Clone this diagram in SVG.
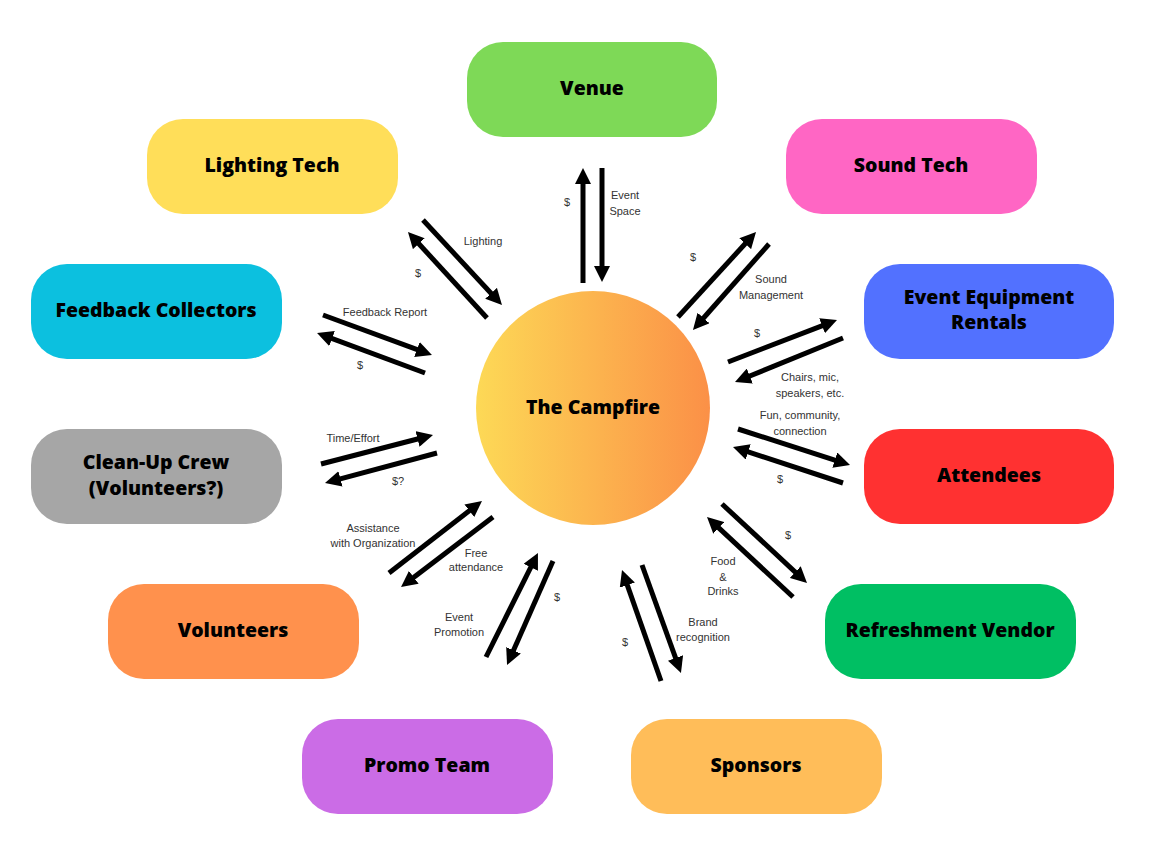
<svg xmlns="http://www.w3.org/2000/svg" width="1167" height="841" viewBox="0 0 1167 841">
<style>
.node{font-family:"Open Sans","Liberation Sans",sans-serif;font-weight:800;font-size:19.5px;fill:#000;text-anchor:middle;dominant-baseline:central}
.lbl{font-family:"Liberation Sans",Arial,sans-serif;font-size:11px;fill:#333;text-anchor:middle;dominant-baseline:central}
.arr{stroke:#000;stroke-width:5;fill:none;marker-end:url(#ah)}
</style>
<defs>
<marker id="ah" markerUnits="userSpaceOnUse" markerWidth="16" markerHeight="16" viewBox="0 0 16 16" refX="4" refY="8" orient="auto">
<path d="M0,0 L16,8 L0,16 z" fill="#000"/>
</marker>
<linearGradient id="fire" x1="0" y1="0" x2="1" y2="0">
<stop offset="0" stop-color="#FDD956"/>
<stop offset="1" stop-color="#FB9047"/>
</linearGradient>
</defs>
<rect width="1167" height="841" fill="#fff"/>

<g id="campfire">
<circle cx="593" cy="408" r="117" fill="url(#fire)"/>
<text class="node" x="593" y="406">The Campfire</text>
</g>
<g id="venue"><rect x="467" y="42" width="250" height="95" rx="36" fill="#7ED957"/><text class="node" x="592" y="87">Venue</text></g>
<g id="lighting-tech"><rect x="147" y="119" width="251" height="95" rx="36" fill="#FFDE59"/><text class="node" x="272" y="164">Lighting Tech</text></g>
<g id="sound-tech"><rect x="786" y="119" width="251" height="95" rx="36" fill="#FF66C4"/><text class="node" x="911" y="164">Sound Tech</text></g>
<g id="feedback-collectors"><rect x="31" y="264" width="251" height="95" rx="36" fill="#0CC0DF"/><text class="node" x="156" y="309">Feedback Collectors</text></g>
<g id="event-equipment-rentals"><rect x="864" y="264" width="250" height="95" rx="36" fill="#5271FF"/><text class="node" x="989" y="296">Event Equipment</text><text class="node" x="989" y="321">Rentals</text></g>
<g id="clean-up-crew"><rect x="31" y="429" width="251" height="95" rx="36" fill="#A6A6A6"/><text class="node" x="156" y="461">Clean-Up Crew</text><text class="node" x="156" y="487">(Volunteers?)</text></g>
<g id="attendees"><rect x="864" y="429" width="250" height="95" rx="36" fill="#FF3131"/><text class="node" x="989" y="474">Attendees</text></g>
<g id="volunteers"><rect x="108" y="584" width="251" height="95" rx="36" fill="#FF914D"/><text class="node" x="233" y="629">Volunteers</text></g>
<g id="refreshment-vendor"><rect x="825" y="584" width="251" height="95" rx="36" fill="#00BF63"/><text class="node" x="950" y="629">Refreshment Vendor</text></g>
<g id="promo-team"><rect x="302" y="719" width="251" height="95" rx="36" fill="#CB6CE6"/><text class="node" x="427" y="764">Promo Team</text></g>
<g id="sponsors"><rect x="631" y="719" width="251" height="95" rx="36" fill="#FFBD59"/><text class="node" x="756" y="764">Sponsors</text></g>

<g id="connectors">
<line class="arr" x1="583" y1="283" x2="583" y2="180"/>
<line class="arr" x1="602" y1="168" x2="602" y2="270"/>
<line class="arr" x1="423" y1="220" x2="493.8" y2="296.2"/>
<line class="arr" x1="487" y1="318" x2="416.1" y2="240.8"/>
<line class="arr" x1="323" y1="315" x2="420.7" y2="350.9"/>
<line class="arr" x1="425" y1="373" x2="328.3" y2="337.2"/>
<line class="arr" x1="678" y1="317" x2="747.9" y2="240.8"/>
<line class="arr" x1="769" y1="244" x2="700.9" y2="321"/>
<line class="arr" x1="728" y1="362" x2="825.8" y2="324.3"/>
<line class="arr" x1="843" y1="338" x2="746.1" y2="377.5"/>
<line class="arr" x1="738" y1="429" x2="838.6" y2="461.3"/>
<line class="arr" x1="843" y1="483" x2="744.4" y2="450.7"/>
<line class="arr" x1="321" y1="464" x2="421.4" y2="438"/>
<line class="arr" x1="437" y1="453" x2="336.6" y2="479.9"/>
<line class="arr" x1="389" y1="573" x2="472.5" y2="508.3"/>
<line class="arr" x1="493" y1="517" x2="410.6" y2="579.7"/>
<line class="arr" x1="486" y1="657" x2="532.6" y2="563.7"/>
<line class="arr" x1="553" y1="561" x2="511.9" y2="654"/>
<line class="arr" x1="722" y1="504" x2="798.2" y2="574.8"/>
<line class="arr" x1="793" y1="597" x2="715.8" y2="525.2"/>
<line class="arr" x1="661" y1="681" x2="626" y2="581.3"/>
<line class="arr" x1="642" y1="565" x2="676.9" y2="661.7"/>
</g>

<g id="labels">
<text class="lbl" x="567" y="202">$</text>
<text class="lbl" x="625" y="195">Event</text>
<text class="lbl" x="625" y="211">Space</text>
<text class="lbl" x="483" y="241">Lighting</text>
<text class="lbl" x="418" y="273">$</text>
<text class="lbl" x="385" y="312">Feedback Report</text>
<text class="lbl" x="360" y="365">$</text>
<text class="lbl" x="693" y="257">$</text>
<text class="lbl" x="771" y="279">Sound</text>
<text class="lbl" x="771" y="295">Management</text>
<text class="lbl" x="757" y="333">$</text>
<text class="lbl" x="810" y="377">Chairs, mic,</text>
<text class="lbl" x="810" y="393">speakers, etc.</text>
<text class="lbl" x="800" y="415">Fun, community,</text>
<text class="lbl" x="800" y="431">connection</text>
<text class="lbl" x="780" y="479">$</text>
<text class="lbl" x="353" y="438">Time/Effort</text>
<text class="lbl" x="398" y="481">$?</text>
<text class="lbl" x="373" y="528">Assistance</text>
<text class="lbl" x="373" y="543">with Organization</text>
<text class="lbl" x="476" y="553">Free</text>
<text class="lbl" x="476" y="567">attendance</text>
<text class="lbl" x="557" y="597">$</text>
<text class="lbl" x="459" y="617">Event</text>
<text class="lbl" x="459" y="632">Promotion</text>
<text class="lbl" x="788" y="535">$</text>
<text class="lbl" x="723" y="561">Food</text>
<text class="lbl" x="723" y="577">&amp;</text>
<text class="lbl" x="723" y="591">Drinks</text>
<text class="lbl" x="625" y="642">$</text>
<text class="lbl" x="703" y="622">Brand</text>
<text class="lbl" x="703" y="637">recognition</text>
</g>
</svg>
